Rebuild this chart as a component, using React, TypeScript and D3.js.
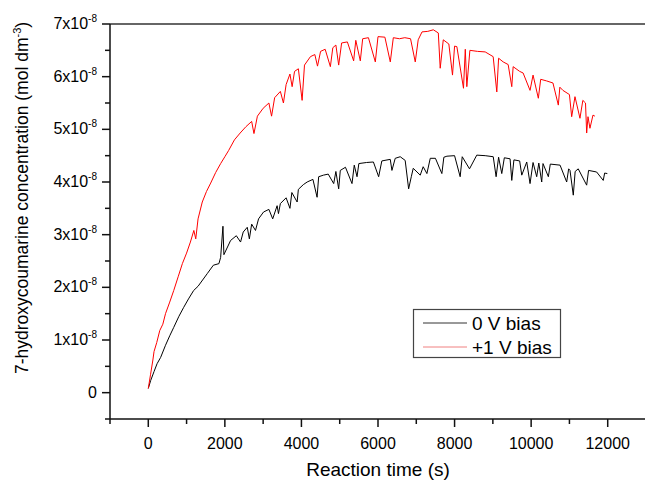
import React from 'react';
import * as d3 from 'd3';

// concentrations are in units of 1e-8 mol dm^-3
const biasOffTime = [0, 62, 150, 230, 323, 450, 560, 665, 800, 925, 1050, 1185, 1300, 1400, 1540, 1700, 1845, 1890, 1950, 1975, 2150, 2300, 2410, 2480, 2585, 2640, 2700, 2800, 2880, 3010, 3150, 3250, 3365, 3400, 3450, 3600, 3700, 3750, 3888, 3920, 4050, 4150, 4300, 4409, 4450, 4575, 4700, 4843, 4900, 4973, 5015, 5150, 5321, 5380, 5452, 5500, 5700, 5880, 6017, 6100, 6320, 6364, 6450, 6580, 6710, 6800, 6870, 6920, 7103, 7180, 7277, 7365, 7500, 7668, 7720, 7800, 8000, 8146, 8200, 8390, 8580, 8800, 9010, 9085, 9150, 9233, 9300, 9450, 9494, 9550, 9700, 9755, 9885, 9971, 10050, 10145, 10200, 10276, 10310, 10450, 10500, 10755, 10928, 10980, 11015, 11101, 11150, 11230, 11450, 11500, 11710, 11883, 11920, 11990];
const biasOffConc = [0.08, 0.23, 0.4, 0.55, 0.67, 0.9, 1.08, 1.24, 1.45, 1.62, 1.78, 1.94, 2.02, 2.12, 2.26, 2.42, 2.45, 2.57, 3.16, 2.62, 2.89, 2.98, 2.86, 3.05, 3.14, 2.92, 3.2, 3.08, 3.3, 3.43, 3.48, 3.3, 3.55, 3.4, 3.59, 3.7, 3.5, 3.8, 3.62, 3.86, 3.95, 4.0, 4.05, 3.71, 4.1, 4.13, 4.15, 3.97, 4.2, 3.87, 4.22, 4.28, 3.97, 4.32, 4.1, 4.35, 4.37, 4.38, 4.1, 4.4, 4.43, 4.22, 4.45, 4.48, 4.41, 3.87, 4.1, 4.26, 4.13, 4.29, 4.16, 4.45, 4.45, 4.16, 4.47, 4.49, 4.5, 4.1, 4.48, 4.25, 4.51, 4.5, 4.48, 4.1, 4.47, 4.16, 4.46, 4.44, 4.03, 4.42, 4.4, 4.13, 4.38, 3.97, 4.37, 4.1, 4.36, 4.0, 4.35, 4.1, 4.34, 4.32, 4.0, 4.25, 4.22, 3.75, 4.2, 4.25, 3.94, 4.22, 4.19, 4.03, 4.17, 4.16];

const biasOnTime = [0, 60, 120, 150, 220, 300, 380, 450, 560, 665, 780, 890, 1000, 1100, 1190, 1240, 1300, 1410, 1520, 1630, 1760, 1890, 2000, 2100, 2250, 2400, 2550, 2700, 2760, 2850, 3000, 3150, 3220, 3300, 3450, 3530, 3600, 3700, 3757, 3820, 3920, 4018, 4080, 4235, 4350, 4420, 4500, 4620, 4756, 4820, 4900, 4973, 5050, 5200, 5364, 5420, 5538, 5600, 5750, 5930, 6000, 6180, 6321, 6400, 6560, 6700, 6850, 6973, 7050, 7150, 7300, 7445, 7575, 7625, 7705, 7850, 7946, 8000, 8060, 8233, 8280, 8320, 8400, 8600, 8800, 9008, 9103, 9150, 9270, 9400, 9494, 9530, 9700, 9790, 9971, 10050, 10188, 10250, 10400, 10570, 10710, 10750, 10830, 11000, 11059, 11145, 11275, 11350, 11420, 11450, 11485, 11536, 11615, 11665];
const biasOnConc = [0.08, 0.35, 0.62, 0.78, 0.95, 1.18, 1.3, 1.5, 1.72, 1.94, 2.2, 2.45, 2.65, 2.86, 3.08, 2.92, 3.3, 3.62, 3.82, 3.98, 4.18, 4.35, 4.48, 4.6, 4.8, 4.93, 5.05, 5.15, 4.92, 5.25, 5.4, 5.5, 5.25, 5.6, 5.72, 5.5, 5.85, 6.05, 5.81, 6.1, 6.15, 5.55, 6.22, 6.38, 6.42, 6.2, 6.48, 6.52, 6.19, 6.55, 6.6, 6.22, 6.64, 6.66, 6.3, 6.69, 6.3, 6.72, 6.74, 6.28, 6.76, 6.75, 6.28, 6.74, 6.72, 6.74, 6.72, 6.28, 6.7, 6.85, 6.86, 6.89, 6.83, 6.16, 6.7, 6.62, 6.03, 6.58, 6.57, 5.78, 6.52, 5.81, 6.5, 6.48, 6.47, 6.38, 5.71, 6.35, 6.28, 6.23, 5.81, 6.19, 6.1, 6.07, 5.74, 6.03, 5.59, 5.95, 5.92, 5.88, 5.46, 5.8, 5.74, 5.66, 5.24, 5.62, 5.21, 5.55, 5.5, 4.93, 5.24, 5.02, 5.27, 5.25];

const xTicks = [0, 2000, 4000, 6000, 8000, 10000, 12000];
const yTicks = [0, 1, 2, 3, 4, 5, 6, 7];
const seriesNames = ['0 V bias', '+1 V bias'];

const left = 110, right = 646, top = 24, bottom = 419;
const font = 'Liberation Sans, Arial, sans-serif';

export default function App() {
  const x = d3.scaleLinear().domain([-1000, 13000]).range([left, right]);
  const y = d3.scaleLinear().domain([-0.5, 7]).range([bottom, top]);

  const line = d3.line<[number, number]>()
    .x(d => x(d[0]))
    .y(d => y(d[1]));

  const off = biasOffTime.map((t, i) => [t, biasOffConc[i]] as [number, number]);
  const on = biasOnTime.map((t, i) => [t, biasOnConc[i]] as [number, number]);

  const xMinor = d3.range(-1000, 13001, 1000).filter(v => v % 2000 !== 0);
  const yMinor = d3.range(-0.5, 7, 1);

  return (
    <svg width={645} height={480} style={{ position: 'absolute', left: 0, top: 0, background: '#fff' }} fontFamily={font}>
      <path d={line(off) || ''} fill="none" stroke="#000" strokeWidth={1} />
      <path d={line(on) || ''} fill="none" stroke="#ff0000" strokeWidth={1} />

      {/* frame */}
      <line x1={left} x2={right} y1={top} y2={top} stroke="#333" strokeWidth={1.5} />
      <line x1={left} x2={left} y1={top} y2={bottom} stroke="#111" strokeWidth={1.5} />
      <line x1={left} x2={right} y1={bottom} y2={bottom} stroke="#111" strokeWidth={1.5} />

      {yTicks.map(v => (
        <g key={v} transform={`translate(0,${y(v)})`}>
          <line x1={left - 8} x2={left} stroke="#111" strokeWidth={1.5} />
          {v === 0 ? (
            <text x={97} dy={5} textAnchor="end" fontSize={16}>0</text>
          ) : (
            <text x={97} dy={5} textAnchor="end" fontSize={16}>
              {v}x10<tspan fontSize={10} dy={-7}>-8</tspan>
            </text>
          )}
        </g>
      ))}
      {yMinor.map(v => (
        <line key={v} x1={left - 5} x2={left} y1={y(v)} y2={y(v)} stroke="#111" strokeWidth={1.5} />
      ))}

      {xTicks.map(v => (
        <g key={v} transform={`translate(${x(v)},0)`}>
          <line y1={bottom} y2={bottom + 8} stroke="#111" strokeWidth={1.5} />
          <text y={449} textAnchor="middle" fontSize={16}>{v}</text>
        </g>
      ))}
      {xMinor.map(v => (
        <line key={v} x1={x(v)} x2={x(v)} y1={bottom} y2={bottom + 5} stroke="#111" strokeWidth={1.5} />
      ))}

      <text x={378} y={476} textAnchor="middle" fontSize={19}>Reaction time (s)</text>
      <text transform="translate(28,198) rotate(-90)" textAnchor="middle" fontSize={17.5}>
        7-hydroxycoumarine concentration (mol dm<tspan fontSize={11} dy={-7}>-3</tspan><tspan dy={7}>)</tspan>
      </text>

      {/* legend */}
      <rect x={413.5} y={309.5} width={147} height={48} fill="#fff" stroke="#444" strokeWidth={1.2} />
      <line x1={423} x2={467} y1={323} y2={323} stroke="#333" strokeWidth={1} />
      <text x={472} y={330} fontSize={19}>{seriesNames[0]}</text>
      <line x1={423} x2={467} y1={347} y2={347} stroke="#f08080" strokeWidth={1} />
      <text x={472} y={354} fontSize={19}>{seriesNames[1]}</text>
    </svg>
  );
}
